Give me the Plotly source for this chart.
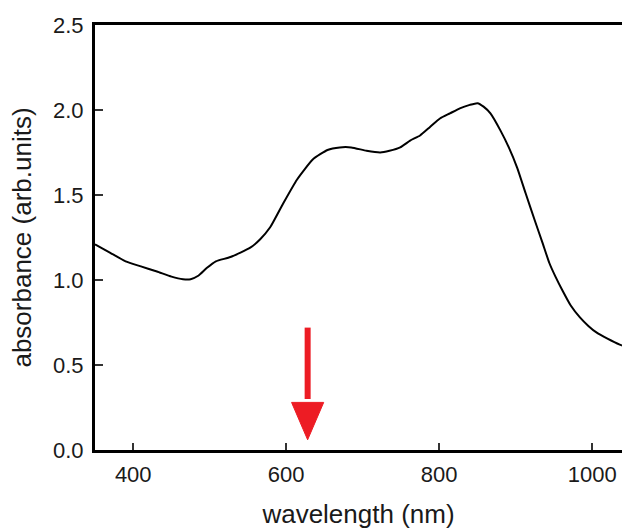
import plotly.graph_objects as go

# Data
wavelength = [350, 370, 390, 410, 431, 450, 465, 475, 485, 496, 508, 527, 553, 566,
              579, 596, 614, 635, 654, 670, 685, 705, 723, 735, 749, 762, 775, 788,
              801, 814, 827, 840, 850, 858, 867, 880, 891, 902, 913, 925, 935, 944,
              952, 961, 972, 984, 995, 1006, 1020, 1036, 1039]
absorbance = [1.21, 1.16, 1.11, 1.08, 1.05, 1.02, 1.005, 1.005, 1.025, 1.07, 1.11,
              1.135, 1.19, 1.24, 1.31, 1.45, 1.59, 1.71, 1.765, 1.78, 1.78, 1.76,
              1.75, 1.76, 1.78, 1.82, 1.85, 1.90, 1.95, 1.98, 2.01, 2.03, 2.04, 2.02,
              1.98, 1.88, 1.78, 1.66, 1.51, 1.35, 1.22, 1.10, 1.02, 0.94, 0.85, 0.78,
              0.73, 0.69, 0.655, 0.62, 0.615]

x_ticks = [400, 600, 800, 1000]
y_ticks = [0.0, 0.5, 1.0, 1.5, 2.0, 2.5]

# Arrow marker (data coordinates)
arrow_x = 628
arrow_top = 0.72
arrow_tip = 0.06
arrow_head_base = 0.28
arrow_head_halfwidth = 21
arrow_color = "#ED1C24"

font_family = "Liberation Sans, Arial, sans-serif"

fig = go.Figure()
fig.add_trace(go.Scatter(
    x=wavelength, y=absorbance, mode="lines",
    line=dict(color="black", width=2, shape="spline", smoothing=0.5),
    showlegend=False, hoverinfo="skip",
))

fig.add_shape(type="line", xref="x", yref="y",
              x0=arrow_x, x1=arrow_x, y0=arrow_top, y1=arrow_head_base + 0.02,
              line=dict(color=arrow_color, width=6))
fig.add_shape(type="path", xref="x", yref="y",
              path=(f"M {arrow_x - arrow_head_halfwidth},{arrow_head_base} "
                    f"L {arrow_x + arrow_head_halfwidth},{arrow_head_base} "
                    f"L {arrow_x},{arrow_tip} Z"),
              fillcolor=arrow_color, line=dict(color=arrow_color, width=1))

fig.update_layout(
    width=622, height=529,
    margin=dict(l=95, r=0, t=25, b=79),
    paper_bgcolor="white", plot_bgcolor="white",
    font=dict(family=font_family, size=22, color="#1a1a1a"),
    xaxis=dict(
        range=[350, 1039], tickvals=x_ticks, ticktext=[str(v) for v in x_ticks],
        ticks="inside", ticklen=7, tickwidth=1.5, tickcolor="#333",
        showline=True, linecolor="black", linewidth=3, mirror=True,
        showgrid=False, zeroline=False, automargin=False,
        tickfont=dict(size=22), ticklabelstandoff=3,
        title=dict(text="wavelength (nm)", font=dict(size=26), standoff=26),
    ),
    yaxis=dict(
        range=[0, 2.5], tickvals=y_ticks, tickformat=".1f",
        ticks="inside", ticklen=8, tickwidth=1.5, tickcolor="#333",
        showline=True, linecolor="black", linewidth=3, mirror=False,
        showgrid=False, zeroline=False, automargin=False,
        tickfont=dict(size=22), ticklabelstandoff=4,
        title=dict(text="absorbance (arb.units)", font=dict(size=26), standoff=14),
    ),
)

fig.write_html("out.html")
